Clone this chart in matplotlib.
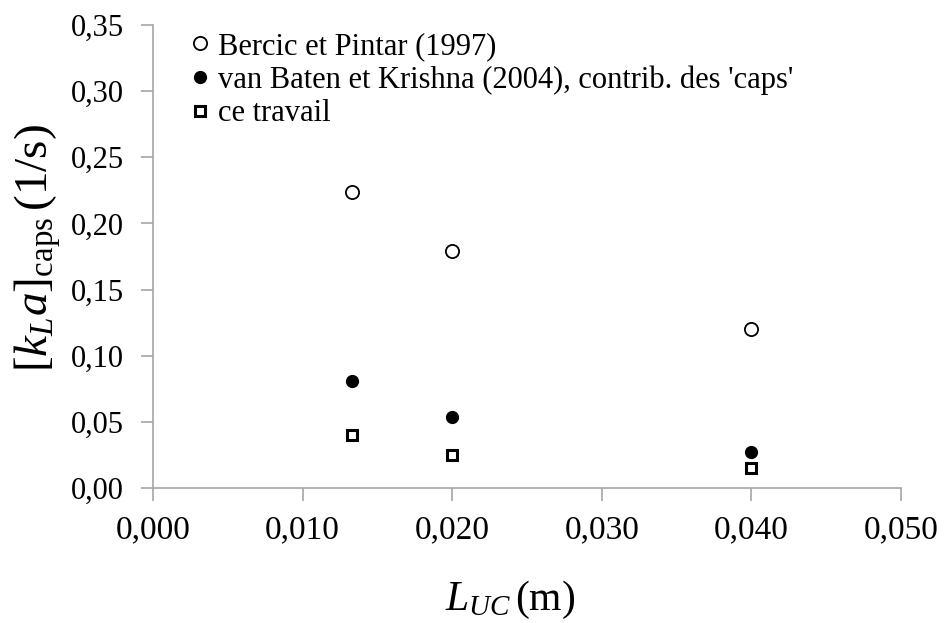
import numpy as np
import matplotlib
matplotlib.use("Agg")
import matplotlib.pyplot as plt

# Fonts: Times-like serif for text and math
plt.rcParams['font.family'] = ['Liberation Serif', 'DejaVu Serif']
plt.rcParams['mathtext.fontset'] = 'custom'
plt.rcParams['mathtext.rm'] = 'Liberation Serif'
plt.rcParams['mathtext.it'] = 'Liberation Serif:italic'
plt.rcParams['mathtext.bf'] = 'Liberation Serif:bold'

# Data
lengthUC = [0.01333, 0.020, 0.040]
kLaBercic = [0.224, 0.179, 0.120]
kLaVanBaten = [0.081, 0.054, 0.027]
kLaTravail = [0.040, 0.025, 0.015]

seriesLabels = ["Bercic et Pintar (1997)",
                "van Baten et Krishna (2004), contrib. des 'caps'",
                "ce travail"]

xTicks = [0.0, 0.01, 0.02, 0.03, 0.04, 0.05]
yTicks = [0.0, 0.05, 0.10, 0.15, 0.20, 0.25, 0.30, 0.35]

fig = plt.figure(figsize=(9.46, 6.23), dpi=100)
ax = fig.add_axes([0.1617, 0.2167, 0.7907, 0.7432])

ax.plot(lengthUC, kLaBercic, linestyle='none', marker='o', markersize=9.5,
        markerfacecolor='white', markeredgecolor='black', markeredgewidth=1.3,
        label=seriesLabels[0])
ax.plot(lengthUC, kLaVanBaten, linestyle='none', marker='o', markersize=8.5,
        markerfacecolor='black', markeredgecolor='black',
        label=seriesLabels[1])
ax.plot(lengthUC, kLaTravail, linestyle='none', marker='s', markersize=7.5,
        markerfacecolor='white', markeredgecolor='black', markeredgewidth=2.2,
        label=seriesLabels[2])

ax.set_xlim(0, 0.05)
ax.set_ylim(0, 0.35)
ax.set_xticks(xTicks)
ax.set_yticks(yTicks)
ax.set_xticklabels([("%.3f" % v).replace('.', ',') for v in xTicks])
ax.set_yticklabels([("%.2f" % v).replace('.', ',') for v in yTicks])

# Axis styling: grey left/bottom spines, ticks pointing out
for side in ['top', 'right']:
    ax.spines[side].set_visible(False)
for side in ['left', 'bottom']:
    ax.spines[side].set_color('#a6a6a6')
    ax.spines[side].set_linewidth(1.2)
ax.tick_params(axis='both', direction='out', length=9, width=1.2,
               color='#a6a6a6')
ax.tick_params(axis='x', labelsize=24, pad=10)
ax.tick_params(axis='y', labelsize=22, pad=12)

ax.set_xlabel(r'$L_{UC}\,\mathrm{(m)}$', fontsize=30)
ax.xaxis.set_label_coords(0.477, -0.197)
ax.set_ylabel(r'$[k_L a]_{\mathrm{caps}}\,\mathrm{(1/s)}$', fontsize=34)
ax.yaxis.set_label_coords(-0.12, 0.518)

ax.legend(loc='upper left', bbox_to_anchor=(0.028, 1.025), frameon=False,
          fontsize=22, handlelength=0.5, handletextpad=0.35,
          labelspacing=0.15, borderaxespad=0.2)

fig.savefig("out.png", dpi=100)
